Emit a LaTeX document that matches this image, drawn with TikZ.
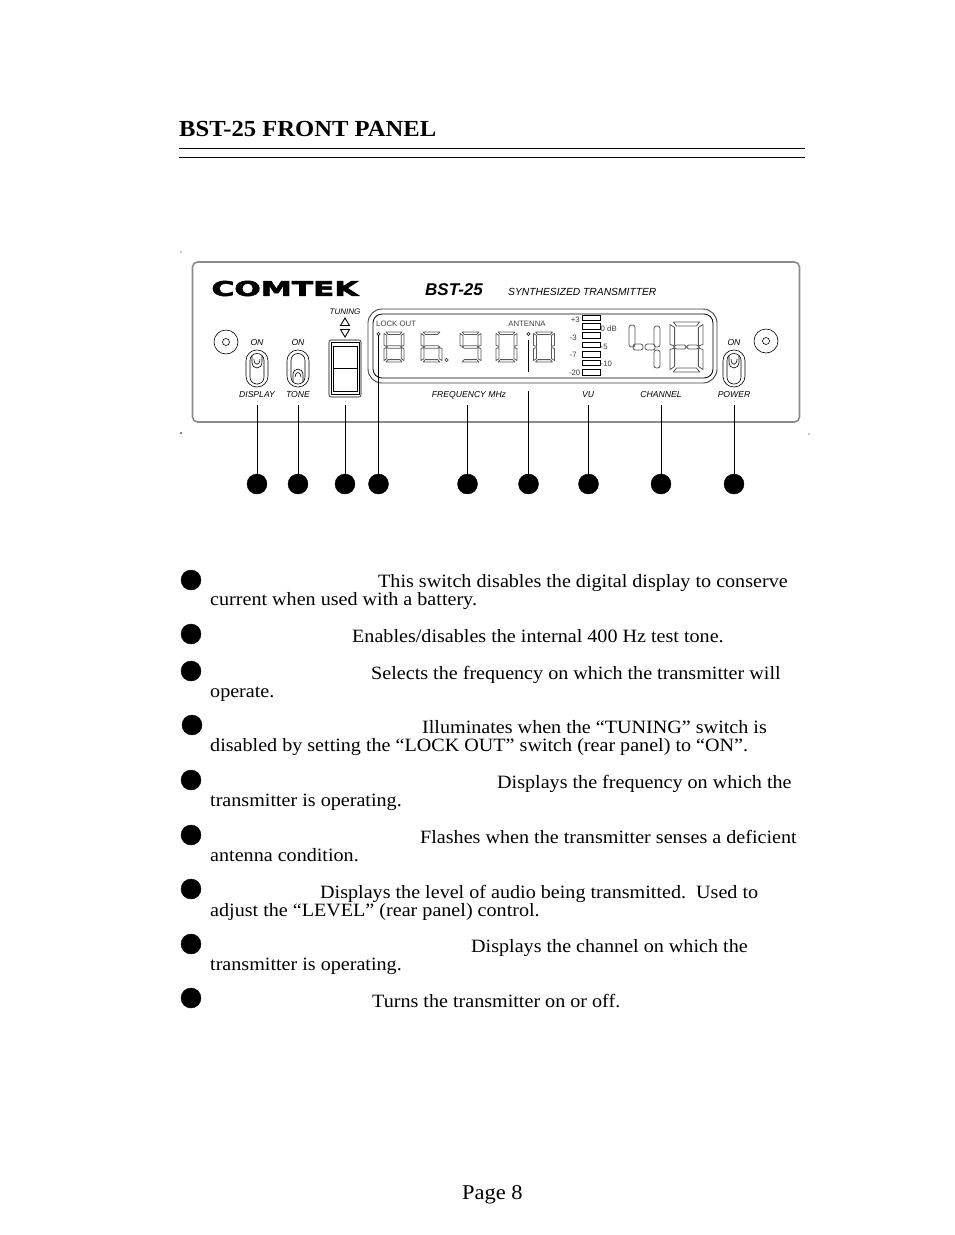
\documentclass[tikz,border=0pt]{standalone}
\usepackage{fontspec}
\usepackage{graphicx}
\setmainfont[FakeStretch=1.07]{Liberation Serif}
\setsansfont{Liberation Sans}
\newfontfamily\logofont[BoldFeatures={FakeBold=2.5}]{DejaVu Sans}

\tikzset{
  body/.style={anchor=base west,inner sep=0pt,font=\rmfamily\fontsize{18.8}{22}\selectfont},
  dot/.style={circle,fill=black,draw=black,inner sep=0pt,minimum size=20pt},
  lbl/.style={inner sep=0pt,font=\sffamily\itshape\fontsize{8.6}{10}\selectfont},
  small/.style={inner sep=0pt,text=black!75,font=\sffamily\fontsize{7.8}{10}\selectfont},
  lcd/.style={draw=black!65,line width=0.8pt,line join=round},
  panelline/.style={draw=black!45,line width=1.6pt},
  thinline/.style={line width=0.6pt},
}

% segments of one digit, box 10 x 20
\def\sega{(1,0)--(9,0)--(8,1.6)--(2,1.6)--cycle}
\def\segb{(10,1)--(10,9)--(8.6,9.6)--(8.6,2.2)--cycle}
\def\segc{(10,11)--(10,19)--(8.6,17.8)--(8.6,10.4)--cycle}
\def\segd{(1,20)--(9,20)--(8,18.4)--(2,18.4)--cycle}
\def\sege{(0,11)--(0,19)--(1.4,17.8)--(1.4,10.4)--cycle}
\def\segf{(0,1)--(0,9)--(1.4,9.6)--(1.4,2.2)--cycle}
\def\segg{(1,10)--(2,9.2)--(8,9.2)--(9,10)--(8,10.8)--(2,10.8)--cycle}
\def\segh{(1,10)--(2,9.2)--(4.4,9.2)--(5,10)--(4.4,10.8)--(2,10.8)--cycle}
\def\segi{(5,10)--(5.6,9.2)--(8,9.2)--(9,10)--(8,10.8)--(5.6,10.8)--cycle}
\newcommand\lcddigit[5]{
  \begin{scope}[shift={(#1,#2)},x=#3pt,y=-#4pt]
    \foreach \s in {#5} {\draw[lcd] \csname seg\s\endcsname;}
  \end{scope}
}
% toggle switch body
\newcommand\togglebody[1]{
  \draw[thinline,rounded corners=10.8pt] (#1-11,350) rectangle (#1+11,387);
  \draw[thinline,rounded corners=6.8pt] (#1-7,353.5) rectangle (#1+7,384);
}
% handle up
\newcommand\handleup[1]{
  \draw[thinline] (#1-5,355.5) -- (#1-5,362) .. controls (#1-5,370) and (#1+5,370) .. (#1+5,362) -- (#1+5,355.5);
  \draw[thinline] (#1-3,359) .. controls (#1-3,366) and (#1+3,366) .. (#1+3,359);
}
% handle down
\newcommand\handledown[1]{
  \draw[thinline] (#1-5,382) -- (#1-5,375) .. controls (#1-5,367) and (#1+5,367) .. (#1+5,375) -- (#1+5,382);
  \draw[thinline] (#1-3,377) .. controls (#1-3,371) and (#1+3,371) .. (#1+3,377);
}

\begin{document}
\begin{tikzpicture}[x=1pt,y=-1pt]
\useasboundingbox (0,0) rectangle (954,1235);
\fill[white] (0,0) rectangle (954,1235);

% heading
\node[body,font=\rmfamily\bfseries\fontsize{23}{28}\selectfont] (title) at (179,136) {BST-25 FRONT PANEL};
\coordinate (rulea) at (179,148.5);
\coordinate (ruleb) at (805,148.5);
\coordinate (rulec) at (179,157);
\coordinate (ruled) at (805,157);
\draw[line width=1pt] (rulea) -- (ruleb);
\draw[line width=0.6pt] (rulec) -- (ruled);

% crop marks
\fill (181,252) circle (0.7pt);
\fill (181,433) circle (0.9pt);
\fill (809,434) circle (0.7pt);

% panel
\draw[panelline,rounded corners=5pt] (192.5,262) rectangle (799.5,422);
\node[inner sep=0pt] (logo) at (285,288.5) {\resizebox{147pt}{15pt}{\logofont\bfseries COMTEK}};
\node[inner sep=0pt,anchor=base west,font=\sffamily\bfseries\itshape\fontsize{17}{20}\selectfont] (model) at (425,295.5) {BST-25};
\node[lbl,anchor=base west,font=\sffamily\itshape\fontsize{10.3}{12}\selectfont] (synth) at (508,295) {SYNTHESIZED TRANSMITTER};

% screws
\draw[thinline] (226,342) circle (12pt) (226,342) circle (3.5pt);
\draw[thinline] (766,341) circle (12pt) (766,341) circle (3.5pt);

% switches
\node[lbl] (ondisp) at (257,343) {ON};
\node[lbl] (ontone) at (298,343) {ON};
\node[lbl] (onpow) at (734,343) {ON};
\node[lbl] (ldisp) at (257,395) {DISPLAY};
\node[lbl] (ltone) at (298,395) {TONE};
\node[lbl] (lpow) at (734,395) {POWER};
\togglebody{257}
\handleup{257}
\togglebody{298}
\handledown{298}
\togglebody{734}
\handleup{734}

% tuning rocker
\node[lbl,font=\sffamily\itshape\fontsize{8}{10}\selectfont] (ltun) at (345,311.5) {TUNING};
\draw[line width=0.9pt] (345,318) -- (340.5,325.5) -- (349.5,325.5) -- cycle;
\draw[line width=0.9pt] (345,337) -- (340.5,329.5) -- (349.5,329.5) -- cycle;
\draw[thinline,rounded corners=2pt] (329,340) rectangle (361,397);
\draw[thinline] (331,342.5) rectangle (359,394.5);
\draw[thinline] (333,346) rectangle (357,391);
\draw[thinline] (333,368) -- (357,368);

% display window
\draw[draw=black!75,line width=0.9pt,rounded corners=14pt] (368,309) rectangle (717,383);
\draw[line width=0.8pt,rounded corners=9pt] (373,314) rectangle (713,378);
\node[small,anchor=base west] (llock) at (376,326.5) {LOCK OUT};
\node[small] (lant) at (527,324) {ANTENNA};
\fill[white,draw=black!80,thinline] (378.5,334) circle (1.6pt);
\fill[white,draw=black!80,thinline] (528.5,334) circle (1.6pt);
\fill[white,draw=black!80,thinline] (446.5,360) circle (1.8pt);

% digits
\lcddigit{384}{332}{2}{1.5}{a,b,c,d,e,f,g}
\lcddigit{421}{332}{2.1}{1.5}{a,c,d,e,f,g}
\lcddigit{460}{332}{2.1}{1.5}{a,b,c,d,f,g}
\lcddigit{496}{332}{2.1}{1.5}{a,b,c,d,e,f}
\lcddigit{533.5}{332}{2.1}{1.5}{a,b,c,d,e,f}
\foreach \xa/\ya/\xb/\yb in {629/325/635/347,633/344/643/350,645/344/655/350,654/326/660/347,654/350/660/368}
  \draw[lcd,rounded corners=2.4pt] (\xa,\ya) rectangle (\xb,\yb);
\lcddigit{670}{322}{3.3}{2.5}{a,b,c,d,e,f,h,i}

% VU scale
\foreach \ya/\yb in {315/320,323/329,332/338,342/347,351/357,360/365,369/375}
  \draw[thinline] (582,\ya) rectangle (600.5,\yb);
\node[small,anchor=east] (vua) at (580,320) {+3};
\node[small,anchor=east] (vub) at (577,338) {-3};
\node[small,anchor=east] (vuc) at (577,355) {-7};
\node[small,anchor=east] (vud) at (580.5,372.5) {-20};
\node[small,anchor=west] (vue) at (600.5,329) {0 dB};
\node[small,anchor=west] (vuf) at (600.5,347) {-5};
\node[small,anchor=west] (vug) at (600.5,364) {-10};

\node[lbl] (lfreq) at (469,395) {FREQUENCY MHz};
\node[lbl] (lvu) at (588,395) {VU};
\node[lbl] (lchan) at (661,395) {CHANNEL};

% call-outs
\node[dot] (ca) at (257,484) {};
\node[dot] (cb) at (298,484) {};
\node[dot] (cc) at (345,484) {};
\node[dot] (cd) at (378.5,484) {};
\node[dot] (ce) at (467.5,484) {};
\node[dot] (cf) at (528.5,484) {};
\node[dot] (cg) at (588.5,484) {};
\node[dot] (ch) at (661,484) {};
\node[dot] (ci) at (734,484) {};

\coordinate (ta) at (257,405);
\coordinate (tb) at (298,405);
\coordinate (tc) at (345,405);
\coordinate (td) at (378.5,335);
\coordinate (te) at (467.5,405);
\coordinate (tf) at (528.5,391);
\coordinate (tg) at (588.5,405);
\coordinate (th) at (661,405);
\coordinate (ti) at (734,405);
\coordinate (ua) at (528.5,340);
\coordinate (ub) at (528.5,372);
\draw[line width=0.8pt] (ta) -- (ca);
\draw[line width=0.8pt] (tb) -- (cb);
\draw[line width=0.8pt] (tc) -- (cc);
\draw[line width=0.8pt] (td) -- (cd);
\draw[line width=0.8pt] (te) -- (ce);
\draw[line width=0.8pt] (tf) -- (cf);
\draw[line width=0.8pt] (tg) -- (cg);
\draw[line width=0.8pt] (th) -- (ch);
\draw[line width=0.8pt] (ti) -- (ci);
\draw[line width=0.8pt] (ua) -- (ub);

% list
\node[dot] (ba) at (191,580) {};
\node[dot] (bb) at (191,634) {};
\node[dot] (bc) at (191,671) {};
\node[dot] (bd) at (192,725) {};
\node[dot] (be) at (191,780) {};
\node[dot] (bf) at (191,835) {};
\node[dot] (bg) at (191,889) {};
\node[dot] (bh) at (191,944) {};
\node[dot] (bi) at (191,998) {};

\node[body] (tap) at (378,587) {This switch disables the digital display to conserve};
\node[body] (taq) at (210,605) {current when used with a battery.};
\node[body] (tbp) at (352,642) {Enables/disables the internal 400 Hz test tone.};
\node[body] (tcp) at (371,679) {Selects the frequency on which the transmitter will};
\node[body] (tcq) at (210,697) {operate.};
\node[body] (tdp) at (422,733) {Illuminates when the “TUNING” switch is};
\node[body] (tdq) at (210,751) {disabled by setting the “LOCK OUT” switch (rear panel) to “ON”.};
\node[body] (tep) at (497,788) {Displays the frequency on which the};
\node[body] (teq) at (210,806) {transmitter is operating.};
\node[body] (tfp) at (420,843) {Flashes when the transmitter senses a deficient};
\node[body] (tfq) at (210,861) {antenna condition.};
\node[body] (tgp) at (320,898) {Displays the level of audio being transmitted.\ \ Used to};
\node[body] (tgq) at (210,916) {adjust the “LEVEL” (rear panel) control.};
\node[body] (thp) at (471,952) {Displays the channel on which the};
\node[body] (thq) at (210,970) {transmitter is operating.};
\node[body] (tip) at (372,1007) {Turns the transmitter on or off.};

\node[body,font=\rmfamily\fontsize{21}{24}\selectfont] (page) at (462,1199) {Page 8};
\end{tikzpicture}
\end{document}
